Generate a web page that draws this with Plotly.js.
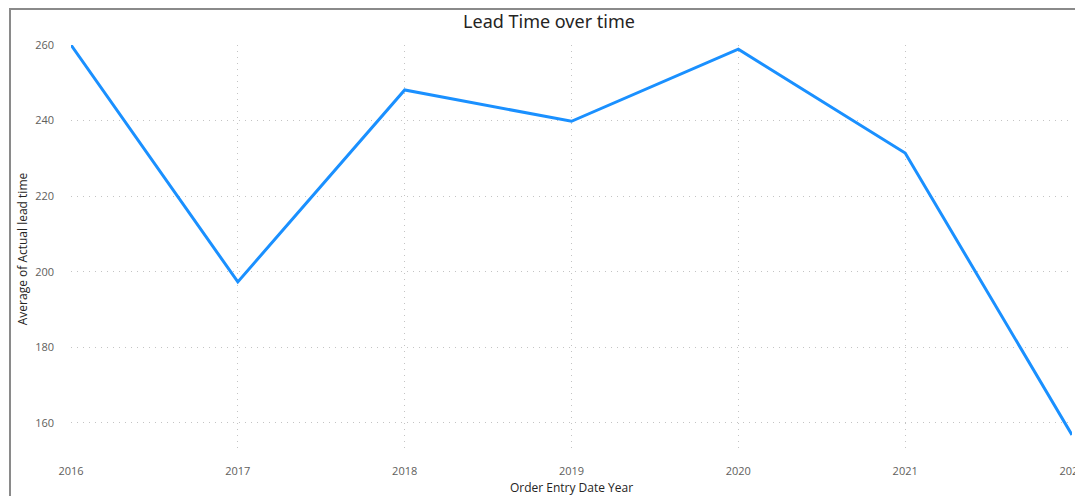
<!DOCTYPE html>
<html>
<head>
<meta charset="utf-8">
<script src="https://cdn.plot.ly/plotly-3.0.1.min.js"></script>
<style>
  html, body { margin: 0; padding: 0; width: 1075px; height: 496px; overflow: hidden; background: #fff; }
  #frame { position: absolute; left: 9px; top: 8px; width: 1100px; height: 500px;
           border-top: 2px solid #8a8a8a; border-left: 2px solid #8a8a8a; pointer-events: none; }
  #chart { position: absolute; left: 0; top: 0; }
</style>
</head>
<body>
<div id="chart"></div>
<div id="frame"></div>
<script>
// Average lead time per order-entry year
const years = [2016, 2017, 2018, 2019, 2020, 2021, 2022];
const avgLeadTime = [260.0, 197.3, 248.1, 239.8, 258.9, 231.4, 156.8];
const yTicks = [160, 180, 200, 220, 240, 260];

const trace = {
  x: years,
  y: avgLeadTime,
  type: 'scatter',
  mode: 'lines',
  line: { color: '#1A90FF', width: 3 },
  cliponaxis: false,
  hoverinfo: 'x+y'
};

const gridStyle = { gridcolor: '#c4c4c4', griddash: '1px,5px', gridwidth: 1 };

const layout = {
  width: 1100,
  height: 496,
  margin: { l: 71, r: 28, t: 45, b: 43 },
  paper_bgcolor: 'rgba(0,0,0,0)',
  plot_bgcolor: 'rgba(0,0,0,0)',
  showlegend: false,
  font: { family: 'Open Sans, Noto Sans, sans-serif', color: '#605E5C' },
  title: {
    text: 'Lead Time over time',
    font: { family: 'Noto Sans, Open Sans, sans-serif', size: 18, color: '#252423' },
    x: 549 / 1100, xanchor: 'center', xref: 'container',
    y: 1 - 22 / 496, yanchor: 'middle', yref: 'container'
  },
  xaxis: Object.assign({
    range: [2016, 2022],
    tickvals: years,
    ticktext: years.map(String),
    showline: false,
    zeroline: false,
    ticks: '',
    ticklabelstandoff: 10,
    tickfont: { size: 11, color: '#605E5C' },
    title: { text: 'Order Entry Date Year', font: { size: 12, color: '#252423' }, standoff: 6 }
  }, gridStyle),
  yaxis: Object.assign({
    range: [152, 260],
    tickvals: yTicks,
    showline: false,
    zeroline: false,
    ticks: '',
    ticklabelstandoff: 16,
    tickfont: { size: 11, color: '#605E5C' },
    title: { text: 'Average of Actual lead time', font: { size: 12, color: '#252423' }, standoff: 4 }
  }, gridStyle)
};

Plotly.newPlot('chart', [trace], layout, { displayModeBar: false, staticPlot: true });
</script>
</body>
</html>
